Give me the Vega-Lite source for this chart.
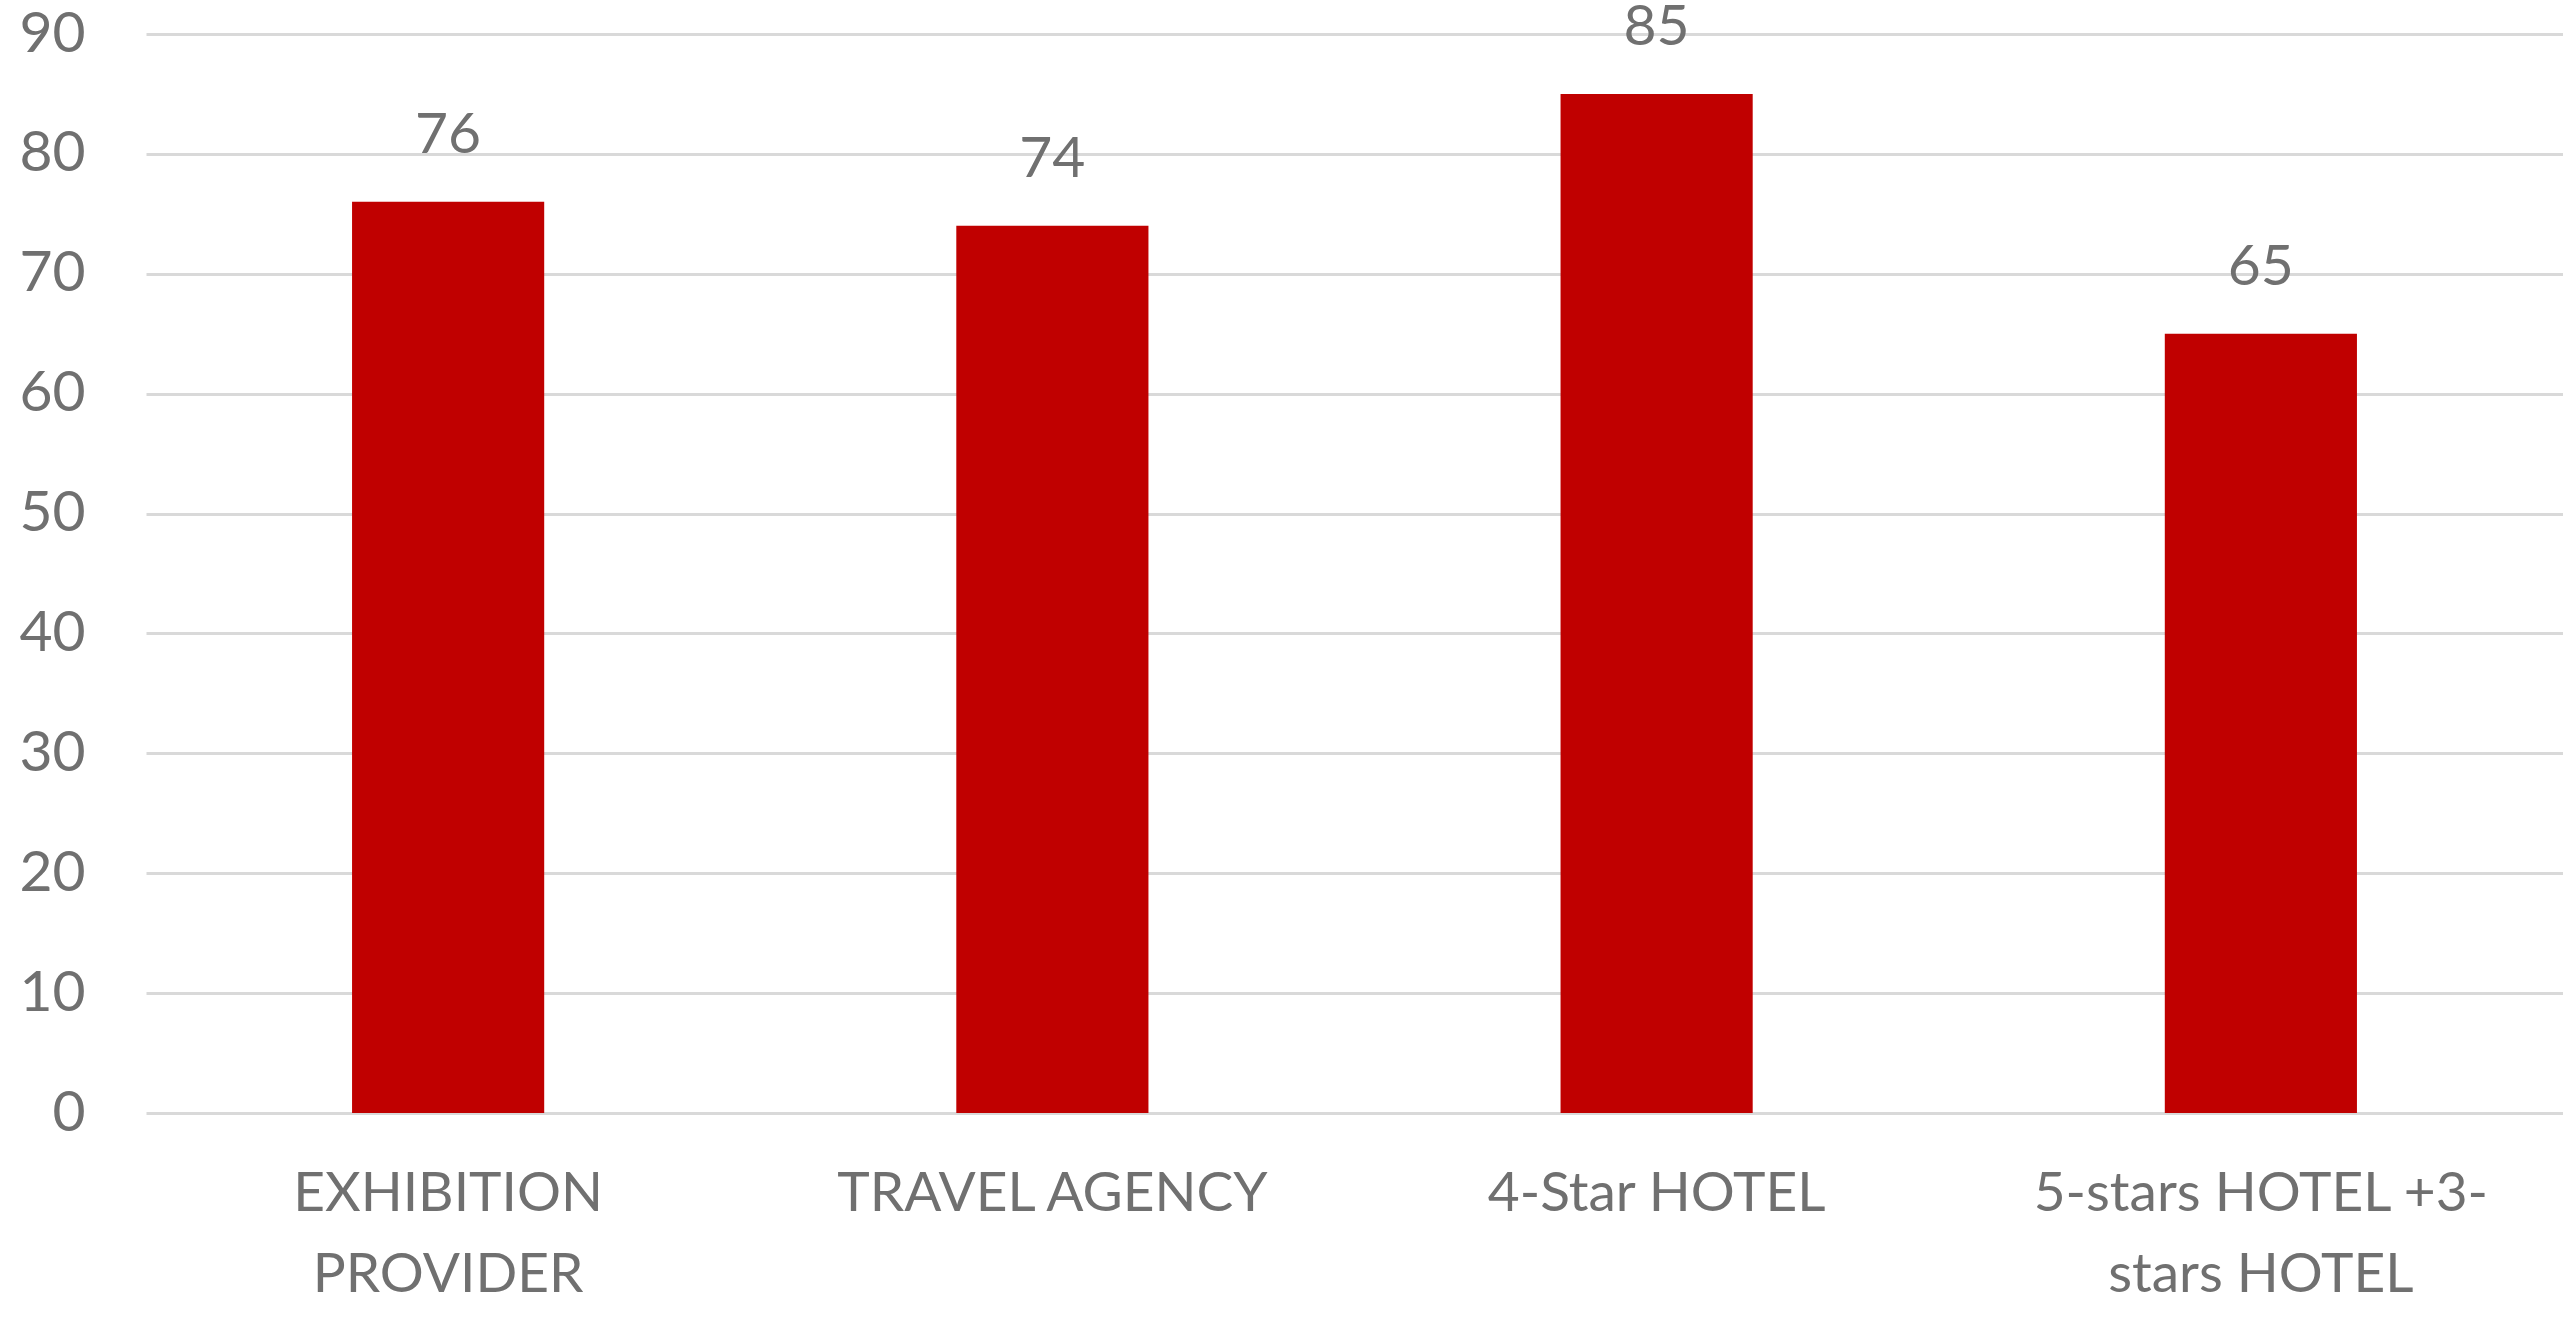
{
  "$schema": "https://vega.github.io/schema/vega-lite/v6.json",
  "autosize": {"type": "none"},
  "padding": {"left": 146, "top": 34, "right": 0, "bottom": 206},
  "width": 2417,
  "height": 1079,
  "background": "#ffffff",
  "config": {
    "view": {"stroke": null},
    "font": "Lato",
    "axis": {
      "labelFont": "Lato",
      "labelColor": "#707070",
      "labelLimit": 0,
      "domain": false,
      "ticks": false,
      "title": null
    }
  },
  "data": {
    "values": [
      {"category": "EXHIBITION PROVIDER", "score": 76},
      {"category": "TRAVEL AGENCY", "score": 74},
      {"category": "4-Star HOTEL", "score": 85},
      {"category": "5-stars HOTEL +3-stars HOTEL", "score": 65}
    ]
  },
  "encoding": {
    "x": {
      "field": "category",
      "type": "nominal",
      "sort": null,
      "scale": {"paddingInner": 0.682, "paddingOuter": 0.341},
      "axis": {
        "labelAngle": 0,
        "labelFontSize": 55,
        "labelPadding": 54,
        "labelLineHeight": 81,
        "labelBaseline": "top",
        "grid": false,
        "labelExpr": "datum.label == 'EXHIBITION PROVIDER' ? ['EXHIBITION', 'PROVIDER'] : datum.label == '5-stars HOTEL +3-stars HOTEL' ? ['5-stars HOTEL +3-', 'stars HOTEL'] : datum.label"
      }
    },
    "y": {
      "field": "score",
      "type": "quantitative",
      "scale": {"domain": [0, 90], "nice": false},
      "axis": {
        "values": [0, 10, 20, 30, 40, 50, 60, 70, 80, 90],
        "labelFontSize": 57,
        "labelPadding": 61,
        "grid": true,
        "gridColor": "#d9d9d9",
        "gridWidth": 3
      }
    }
  },
  "layer": [
    {"mark": {"type": "bar", "color": "#c00000"}},
    {
      "mark": {
        "type": "text",
        "baseline": "alphabetic",
        "dy": -49,
        "fontSize": 57,
        "color": "#707070",
        "font": "Lato"
      },
      "encoding": {"text": {"field": "score", "type": "quantitative"}}
    }
  ]
}
